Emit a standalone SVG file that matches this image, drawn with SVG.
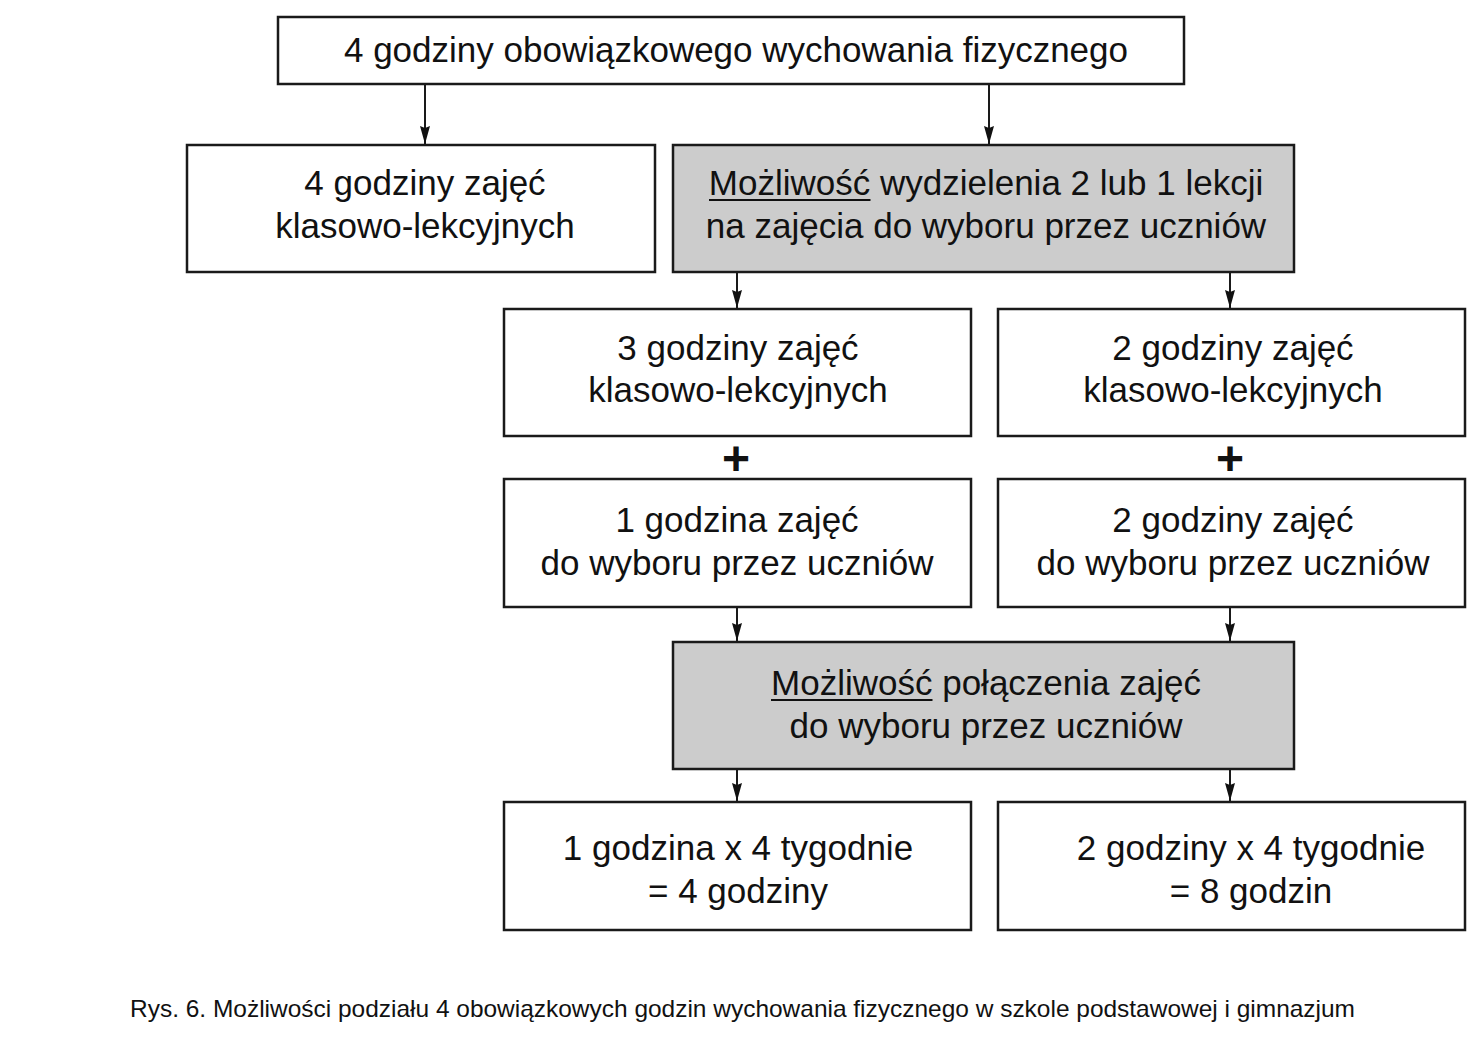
<svg xmlns="http://www.w3.org/2000/svg" width="1472" height="1041" viewBox="0 0 1472 1041">
<style>
.box{fill:#ffffff;stroke:#1a1a1a;stroke-width:2.5}
.gray{fill:#cccccc;stroke:#1a1a1a;stroke-width:2.5}
.t{font-family:"Liberation Sans",Arial,sans-serif;font-size:35px;fill:#111111;text-anchor:middle}
.ul{stroke:#111111;stroke-width:2}
.conn{stroke:#1a1a1a;stroke-width:2;fill:none;marker-end:url(#arr)}
.plus{font-family:"Liberation Sans",Arial,sans-serif;font-size:48px;font-weight:bold;fill:#111111;text-anchor:middle}
.cap{font-family:"Liberation Sans",Arial,sans-serif;font-size:24px;fill:#111111}
</style>
<defs>
<marker id="arr" markerUnits="userSpaceOnUse" markerWidth="20" markerHeight="12" viewBox="0 -6 20 12" refX="18" refY="0" orient="auto">
<path d="M0,-5 L18,0 L0,5 L2,0 z" fill="#111111"/>
</marker>
</defs>
<rect width="1472" height="1041" fill="#ffffff"/>

<g id="connectors">
<line class="conn" x1="425" y1="84" x2="425" y2="144"/>
<line class="conn" x1="989" y1="84" x2="989" y2="144"/>
<line class="conn" x1="737" y1="272" x2="737" y2="308"/>
<line class="conn" x1="1230" y1="272" x2="1230" y2="308"/>
<line class="conn" x1="737" y1="607" x2="737" y2="641"/>
<line class="conn" x1="1230" y1="607" x2="1230" y2="641"/>
<line class="conn" x1="737" y1="769" x2="737" y2="801"/>
<line class="conn" x1="1230" y1="769" x2="1230" y2="801"/>
</g>

<g id="node-top">
<rect class="box" x="278" y="17" width="906" height="67"/>
<text class="t" x="736" y="62">4 godziny obowiązkowego wychowania fizycznego</text>
</g>

<g id="node-a">
<rect class="box" x="187" y="145" width="468" height="127"/>
<text class="t" x="425" y="195">4 godziny zajęć</text>
<text class="t" x="425" y="238">klasowo-lekcyjnych</text>
</g>

<g id="node-b">
<rect class="gray" x="673" y="145" width="621" height="127"/>
<text class="t" x="986" y="195">Możliwość wydzielenia 2 lub 1 lekcji</text>
<line class="ul" x1="709" y1="200" x2="870.5" y2="200"/>
<text class="t" x="986" y="238">na zajęcia do wyboru przez uczniów</text>
</g>

<g id="node-c">
<rect class="box" x="504" y="309" width="467" height="127"/>
<text class="t" x="738" y="360">3 godziny zajęć</text>
<text class="t" x="738" y="402">klasowo-lekcyjnych</text>
</g>

<g id="node-d">
<rect class="box" x="998" y="309" width="467" height="127"/>
<text class="t" x="1233" y="360">2 godziny zajęć</text>
<text class="t" x="1233" y="402">klasowo-lekcyjnych</text>
</g>

<g id="plus-signs">
<text class="plus" x="736" y="475">+</text>
<text class="plus" x="1230" y="475">+</text>
</g>

<g id="node-e">
<rect class="box" x="504" y="479" width="467" height="128"/>
<text class="t" x="737" y="532">1 godzina zajęć</text>
<text class="t" x="737" y="575">do wyboru przez uczniów</text>
</g>

<g id="node-f">
<rect class="box" x="998" y="479" width="467" height="128"/>
<text class="t" x="1233" y="532">2 godziny zajęć</text>
<text class="t" x="1233" y="575">do wyboru przez uczniów</text>
</g>

<g id="node-g">
<rect class="gray" x="673" y="642" width="621" height="127"/>
<text class="t" x="986" y="695">Możliwość połączenia zajęć</text>
<line class="ul" x1="771" y1="700" x2="932.5" y2="700"/>
<text class="t" x="986" y="738">do wyboru przez uczniów</text>
</g>

<g id="node-h">
<rect class="box" x="504" y="802" width="467" height="128"/>
<text class="t" x="738" y="860">1 godzina x 4 tygodnie</text>
<text class="t" x="738" y="903">= 4 godziny</text>
</g>

<g id="node-i">
<rect class="box" x="998" y="802" width="467" height="128"/>
<text class="t" x="1251" y="860">2 godziny x 4 tygodnie</text>
<text class="t" x="1251" y="903">= 8 godzin</text>
</g>

<text class="cap" x="130" y="1017" textLength="1225" lengthAdjust="spacingAndGlyphs">Rys. 6. Możliwości podziału 4 obowiązkowych godzin wychowania fizycznego w szkole podstawowej i gimnazjum</text>
</svg>
